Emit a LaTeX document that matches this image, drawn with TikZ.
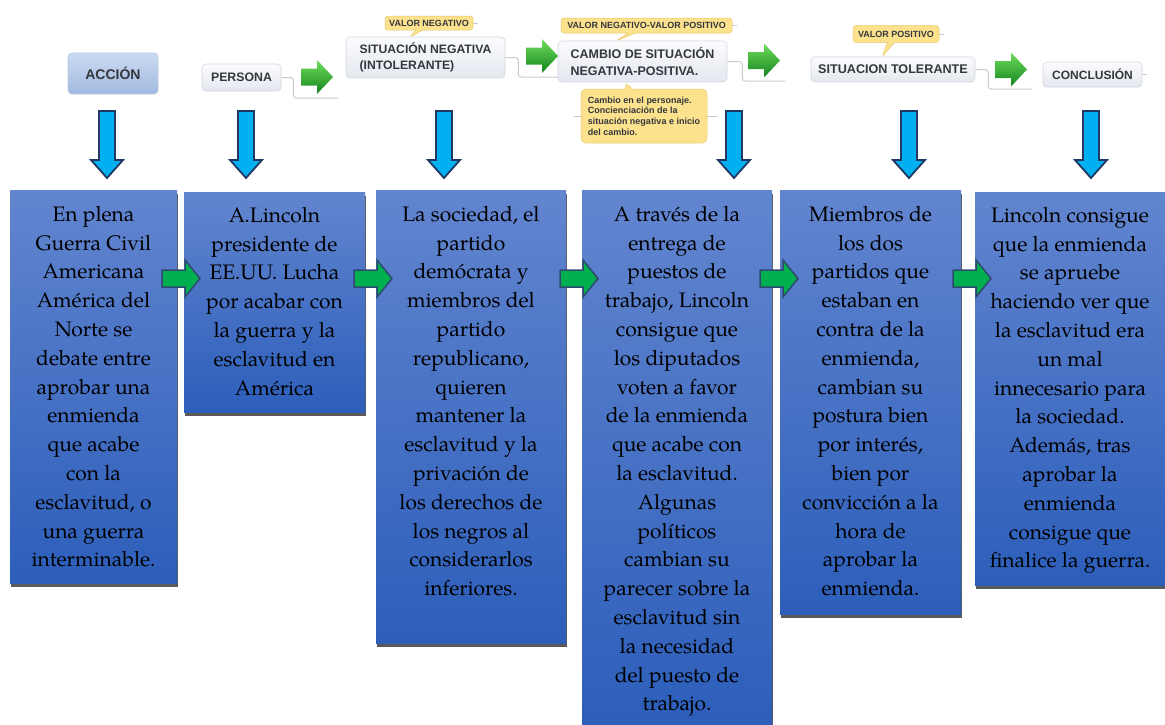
\documentclass[tikz,border=0pt]{standalone}
\usepackage{fontspec}
\setmainfont{TeX Gyre Pagella}
\setsansfont{Liberation Sans}
\usetikzlibrary{shapes.callouts,shadows}
\definecolor{boxtop}{RGB}{98,133,207}
\definecolor{boxbot}{RGB}{44,94,186}
\definecolor{shadowc}{RGB}{90,90,90}
\definecolor{bluefill}{RGB}{0,176,240}
\definecolor{bluedraw}{RGB}{32,56,100}
\definecolor{gfill}{RGB}{0,176,80}
\definecolor{gdraw}{RGB}{46,74,110}
\definecolor{tg1}{RGB}{110,222,90}
\definecolor{tg2}{RGB}{22,132,32}
\definecolor{maptop}{RGB}{251,252,254}
\definecolor{mapbot}{RGB}{228,231,238}
\definecolor{mapdraw}{RGB}{210,213,222}
\definecolor{acctop}{RGB}{204,219,240}
\definecolor{accbot}{RGB}{160,185,223}
\definecolor{accdraw}{RGB}{185,201,226}
\definecolor{maptext}{RGB}{52,55,62}
\definecolor{callfill}{RGB}{252,226,140}
\definecolor{calldraw}{RGB}{232,200,110}
\definecolor{mapline}{RGB}{200,202,208}
\begin{document}
\begin{tikzpicture}[x=1pt,y=-1pt,
  mapnode/.style={rectangle, rounded corners=4pt, draw=mapdraw, line width=0.6pt,
    top color=maptop, bottom color=mapbot, text=maptext, inner sep=0pt,
    font=\sffamily\bfseries, align=left},
  accnode/.style={mapnode, draw=accdraw, top color=acctop, bottom color=accbot},
  callnode/.style={rectangle callout, rounded corners=3pt, fill=callfill, draw=calldraw,
    line width=0.5pt, callout pointer width=7pt, text=maptext, inner sep=0pt,
    font=\sffamily\bfseries\fontsize{9}{10}\selectfont, align=left},
  mapconn/.style={draw=mapline, line width=1pt, rounded corners=3pt},
  bluebox/.style={rectangle, inner sep=0pt, top color=boxtop, bottom color=boxbot,
    drop shadow={shadow xshift=1pt, shadow yshift=-4pt, opacity=1, fill=shadowc}},
  boxtext/.style={anchor=north, inner sep=0pt, align=center, text=black,
    font=\fontsize{21}{28.8}\selectfont},
  topgreen/.pic={\shade[top color=tg1, bottom color=tg2]
    (0,-8.5) -- (16,-8.5) -- (16,-17) -- (32,0) -- (16,17) -- (16,8.5) -- (0,8.5) -- cycle;},
  bluedown/.pic={\draw[fill=bluefill, draw=bluedraw, line width=1.8pt, line join=miter]
    (-8,0) -- (8,0) -- (8,49) -- (16,49) -- (0,67) -- (-16,49) -- (-8,49) -- cycle;},
  greenright/.pic={\draw[fill=gfill, draw=gdraw, line width=1.5pt, line join=miter]
    (0,-8.5) -- (23,-8.5) -- (23,-18.5) -- (38,0) -- (23,18.5) -- (23,8.5) -- (0,8.5) -- cycle;}
]
\useasboundingbox (0,0) rectangle (1165,724);

% ---------- top mind-map strip ----------
\node[accnode, minimum width=90pt, minimum height=41pt, font=\sffamily\bfseries\fontsize{14}{16}\selectfont] (accion) at (113,73.5) {ACCIÓN};
\node[mapnode, minimum width=79pt, minimum height=27pt, font=\sffamily\bfseries\fontsize{12.3}{14}\selectfont] (persona) at (241.5,77.5) {PERSONA};
\node[mapnode, minimum width=159pt, minimum height=41pt, font=\sffamily\bfseries\fontsize{12.2}{16.5}\selectfont] (sitneg) at (425.5,57.5) {SITUACIÓN NEGATIVA\\(INTOLERANTE)};
\node[mapnode, minimum width=169pt, minimum height=41pt, font=\sffamily\bfseries\fontsize{12.5}{16.5}\selectfont] (cambio) at (642.5,61.5) {CAMBIO DE SITUACIÓN\\NEGATIVA-POSITIVA.};
\node[mapnode, minimum width=164pt, minimum height=25pt, font=\sffamily\bfseries\fontsize{12.6}{14}\selectfont] (sittol) at (893,69.5) {SITUACION TOLERANTE};
\node[mapnode, minimum width=99pt, minimum height=25pt, font=\sffamily\bfseries\fontsize{12}{14}\selectfont] (concl) at (1092.5,74.5) {CONCLUSIÓN};

\node[callnode, minimum width=88pt, minimum height=14pt, callout absolute pointer={(410,37)}] (vn) at (429,23) {VALOR NEGATIVO};
\node[callnode, minimum width=171pt, minimum height=15pt, callout absolute pointer={(616,41)}] (vnvp) at (646.5,25.5) {VALOR NEGATIVO-VALOR POSITIVO};
\node[callnode, minimum width=86pt, minimum height=17pt, callout absolute pointer={(882,57)}] (vp) at (896,34) {VALOR POSITIVO};
\node[callnode, rounded corners=5pt, minimum width=126pt, minimum height=54pt, callout absolute pointer={(625,82)}, font=\sffamily\bfseries\fontsize{9}{10.7}\selectfont] (cam) at (644,116) {Cambio en el personaje.\\Concienciación de la\\situación negativa e inicio\\del cambio.};

\draw[mapconn] (persona.east) -- ++(12,0) -- ++(0,20.5) -- ++(45,0);
\draw[mapconn] (sitneg.east) -- ++(13,0) -- ++(0,19.5) -- ++(40,0);
\draw[mapconn] (cambio.east) -- ++(15,0) -- ++(0,19.5) -- ++(43,0);
\draw[mapconn] (sittol.east) -- ++(13,0) -- ++(0,19.5) -- ++(44,0);
\draw[mapconn] (concl.east) -- ++(5,0);
\draw[mapconn] (vn.east) -- ++(5,0);
\draw[mapconn] (vnvp.east) -- ++(5,0);
\draw[mapconn] (vp.east) -- ++(5,0);
\draw[mapconn] (cam.west) -- ++(-7,0);
\draw[mapconn] (cam.east) -- ++(10,0);

\pic at (301,77) {topgreen};
\pic at (526,56) {topgreen};
\pic at (748,60.5) {topgreen};
\pic at (995,69.5) {topgreen};

% ---------- blue down arrows ----------
\pic at (107,111) {bluedown};
\pic at (246,111) {bluedown};
\pic at (444,111) {bluedown};
\pic at (734,111) {bluedown};
\pic at (909,111) {bluedown};
\pic at (1091,111) {bluedown};

% ---------- blue boxes ----------
\node[bluebox, minimum width=167pt, minimum height=393pt] (b1) at (93.5,386.5) {};
\node[bluebox, minimum width=181pt, minimum height=220pt] (b2) at (274.5,302) {};
\node[bluebox, minimum width=190pt, minimum height=453pt] (b3) at (471,416.5) {};
\node[bluebox, minimum width=190pt, minimum height=534pt] (b4) at (677,457) {};
\node[bluebox, minimum width=181pt, minimum height=424pt] (b5) at (870.5,402) {};
\node[bluebox, minimum width=190pt, minimum height=393pt] (b6) at (1070,388.5) {};

\node[boxtext] (t1) at ([yshift=-16pt]b1.north) {En plena\\Guerra Civil\\Americana\\América del\\Norte se\\debate entre\\aprobar una\\enmienda\\que acabe\\con la\\esclavitud, o\\una guerra\\interminable.};
\node[boxtext] (t2) at ([yshift=-15pt]b2.north) {A.Lincoln\\presidente de\\EE.UU. Lucha\\por acabar con\\la guerra y la\\esclavitud en\\América};
\node[boxtext] (t3) at ([yshift=-16pt]b3.north) {La sociedad, el\\partido\\demócrata y\\miembros del\\partido\\republicano,\\quieren\\mantener la\\esclavitud y la\\privación de\\los derechos de\\los negros al\\considerarlos\\inferiores.};
\node[boxtext] (t4) at ([yshift=-16pt]b4.north) {A través de la\\entrega de\\puestos de\\trabajo, Lincoln\\consigue que\\los diputados\\voten a favor\\de la enmienda\\que acabe con\\la esclavitud.\\Algunas\\políticos\\cambian su\\parecer sobre la\\esclavitud sin\\la necesidad\\del puesto de\\trabajo.};
\node[boxtext] (t5) at ([yshift=-16pt]b5.north) {Miembros de\\los dos\\partidos que\\estaban en\\contra de la\\enmienda,\\cambian su\\postura bien\\por interés,\\bien por\\convicción a la\\hora de\\aprobar la\\enmienda.};
\node[boxtext] (t6) at ([yshift=-15pt]b6.north) {Lincoln consigue\\que la enmienda\\se apruebe\\haciendo ver que\\la esclavitud era\\un mal\\innecesario para\\la sociedad.\\Además, tras\\aprobar la\\enmienda\\consigue que\\finalice la guerra.};

% ---------- green arrows between boxes ----------
\pic at (162,278.5) {greenright};
\pic at (354,278.5) {greenright};
\pic at (560,278.5) {greenright};
\pic at (760,278.5) {greenright};
\pic at (953,278.5) {greenright};
\end{tikzpicture}
\end{document}
